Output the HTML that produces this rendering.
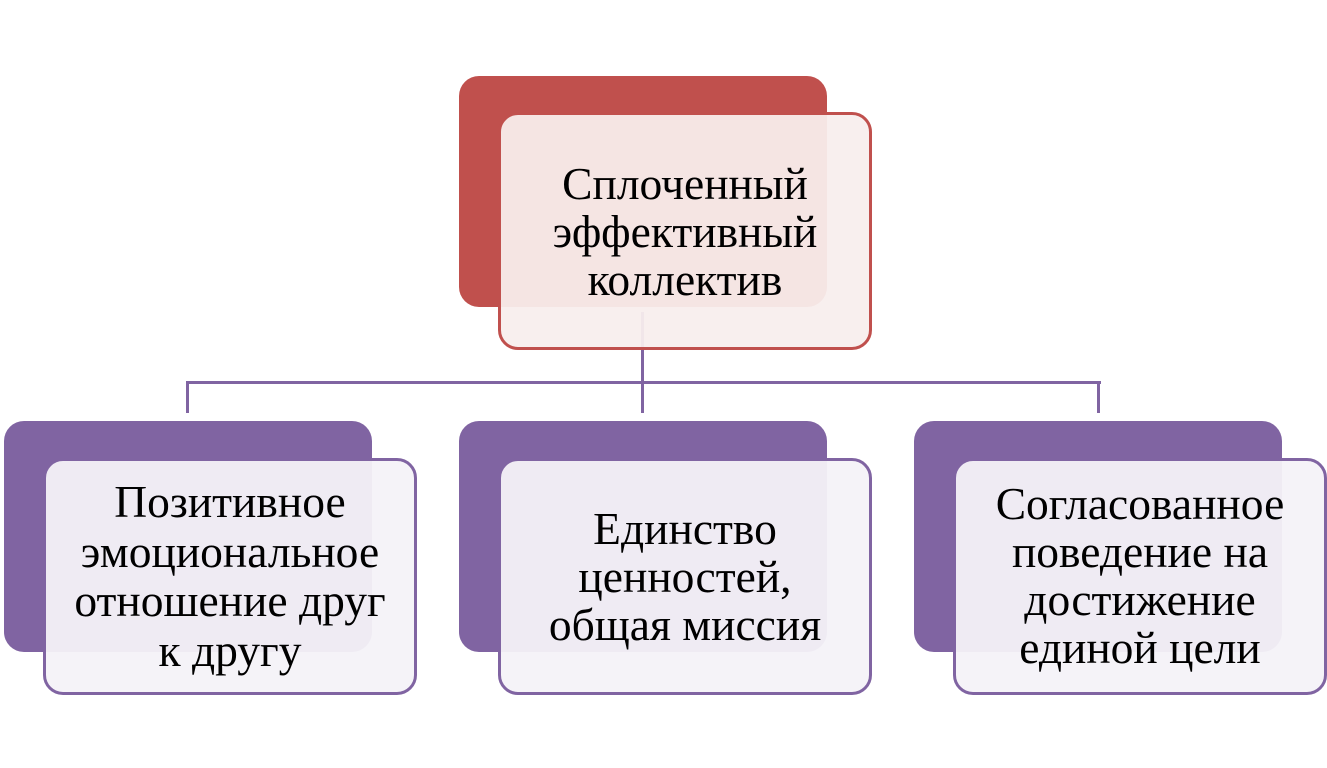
<!DOCTYPE html>
<html><head><meta charset="utf-8"><style>
html,body{margin:0;padding:0;background:#fff;}
body{width:1327px;height:768px;position:relative;overflow:hidden;font-family:"Liberation Serif",serif;}
.b{position:absolute;border-radius:20px;}
.w{position:absolute;border-radius:20px;box-sizing:border-box;border:3px solid #8064A2;background:rgba(244,242,248,0.95);display:flex;align-items:center;justify-content:center;text-align:center;font-size:45.5px;line-height:48px;color:#000;}
.l{position:absolute;background:#8064A2;}
</style></head><body>
<div class="l" style="left:641px;top:312px;width:3px;height:101px"></div>
<div class="l" style="left:186px;top:381px;width:915px;height:3px"></div>
<div class="l" style="left:186px;top:381px;width:3px;height:32px"></div>
<div class="l" style="left:1097px;top:381px;width:3px;height:32px"></div>

<div class="b" style="left:459px;top:76px;width:368px;height:231px;background:#C0504D"></div>
<div class="w" style="left:498px;top:112px;width:374px;height:238px;border-color:#C0504D;background:rgba(248,238,237,0.94);"><div style="margin-top:2px">Сплоченный<br>эффективный<br>коллектив</div></div>

<div class="b" style="left:4px;top:421px;width:368px;height:231px;background:#8064A2"></div>
<div class="w" style="left:43px;top:458px;width:374px;height:237px;line-height:49.5px"><div style="margin-top:-1px">Позитивное<br>эмоциональное<br>отношение друг<br>к другу</div></div>

<div class="b" style="left:459px;top:421px;width:368px;height:231px;background:#8064A2"></div>
<div class="w" style="left:498px;top:458px;width:374px;height:237px"><div style="margin-top:0px">Единство<br>ценностей,<br>общая миссия</div></div>

<div class="b" style="left:914px;top:421px;width:368px;height:231px;background:#8064A2"></div>
<div class="w" style="left:953px;top:458px;width:374px;height:237px"><div style="margin-top:-2px">Согласованное<br>поведение на<br>достижение<br>единой цели</div></div>
</body></html>
